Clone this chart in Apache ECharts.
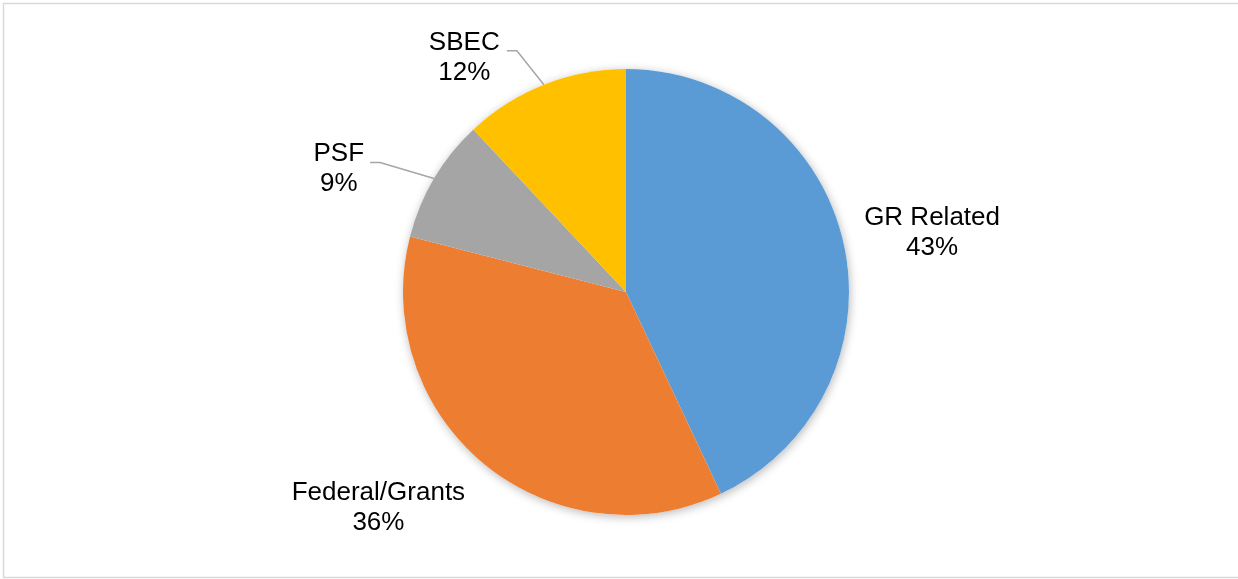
<!DOCTYPE html>
<html>
<head>
<meta charset="utf-8">
<style>
  html, body { margin: 0; padding: 0; background: #fff; }
  #chart { width: 1238px; height: 579px; }
</style>
<script src="https://cdn.jsdelivr.net/npm/echarts@6/dist/echarts.min.js"></script>
</head>
<body>
<div id="chart"></div>
<script>
// ---- data ----
const categories = ['GR Related', 'Federal/Grants', 'PSF', 'SBEC'];
const shares = [43, 36, 9, 12];
const sliceColors = ['#5B9BD5', '#ED7D31', '#A5A5A5', '#FFC000'];

// label fine-tuning (per slice): [dx, dy] applied to the centre of the default label box
const labelNudge = [[-4, -6], [-1, 29], [-1.5, 7], [-2, 7]];
// leader line bends (relative to the slice edge point); null = no leader line
const leaderBend = [null, null, [[-54, -16], [-64, -16]], [[-27, -34], [-37, -34]]];
const lineLen = [[20, 0], [20, 0], [32, 36], [36, 24]];

const chart = echarts.init(document.getElementById('chart'), null, { renderer: 'canvas' });

const data = categories.map((name, i) => ({
  name: name,
  value: shares[i],
  itemStyle: { color: sliceColors[i] },
  labelLine: {
    show: leaderBend[i] !== null,
    length: lineLen[i][0],
    length2: lineLen[i][1]
  }
}));

chart.setOption({
  animation: false,
  graphic: [{
    type: 'rect',
    shape: { x: 3.5, y: 3.5, width: 1240, height: 574 },
    style: { fill: 'none', stroke: '#d9d9d9', lineWidth: 1.5 },
    silent: true
  }],
  series: [{
    // soft shadow disc underneath the pie
    type: 'pie',
    center: [626, 292],
    radius: 223,
    silent: true,
    z: 1,
    label: { show: false },
    labelLine: { show: false },
    itemStyle: {
      color: '#ffffff',
      shadowBlur: 10,
      shadowColor: 'rgba(0,0,0,0.28)',
      shadowOffsetX: 1,
      shadowOffsetY: 2
    },
    data: [{ name: '', value: 1 }]
  }, {
    type: 'pie',
    center: [626, 292],
    radius: 223,
    z: 2,
    startAngle: 90,
    clockwise: true,
    avoidLabelOverlap: false,
    itemStyle: { borderWidth: 0 },
    label: {
      show: true,
      position: 'outside',
      formatter: '{t|{b}}\n{t|{d}%}',
      color: '#000',
      fontFamily: 'Liberation Sans, Arial, sans-serif',
      fontSize: 26,
      lineHeight: 30,
      rich: {
        t: { align: 'center', fontSize: 26, lineHeight: 30, color: '#000', fontFamily: 'Liberation Sans, Arial, sans-serif' }
      }
    },
    labelLine: {
      lineStyle: { color: '#a6a6a6', width: 1.5 },
      smooth: false
    },
    emphasis: { scale: false },
    labelLayout: function (params) {
      const i = params.dataIndex;
      const r = params.labelRect;
      const out = {
        x: r.x + r.width / 2 + labelNudge[i][0],
        y: r.y + r.height / 2 + labelNudge[i][1],
        align: 'center',
        verticalAlign: 'middle'
      };
      if (leaderBend[i] && params.labelLinePoints) {
        const p0 = params.labelLinePoints[0];
        out.labelLinePoints = [
          [p0[0], p0[1]],
          [p0[0] + leaderBend[i][0][0], p0[1] + leaderBend[i][0][1]],
          [p0[0] + leaderBend[i][1][0], p0[1] + leaderBend[i][1][1]]
        ];
      }
      return out;
    },
    data: data
  }]
});
</script>
</body>
</html>
